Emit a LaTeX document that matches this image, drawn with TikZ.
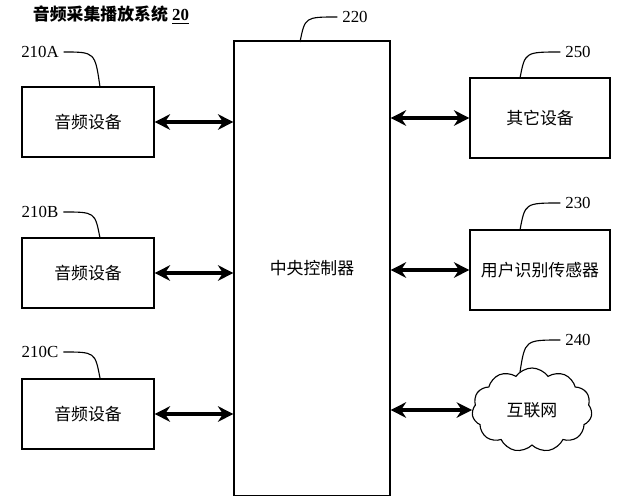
\documentclass[tikz,border=0pt]{standalone}
\usepackage{fontspec}
\setmainfont{Liberation Serif}
\newfontfamily\cjk{Noto Sans CJK SC}
\usetikzlibrary{arrows.meta}
\usetikzlibrary{positioning}
\usetikzlibrary{shapes.symbols}
\tikzset{
  box/.style={draw, thick, minimum width=3.3cm, minimum height=1.75cm, font=\cjk\large},
  link/.style={{Stealth[length=11pt,width=11pt]}-{Stealth[length=11pt,width=11pt]}, line width=2.2pt},
  lead/.style={thick},
  tag/.style={font=\large}
}
\begin{document}
\begin{tikzpicture}[x=0.025cm,y=-0.025cm]
    \useasboundingbox (0,0) rectangle (636,500);
    \node[font=\bfseries\large, anchor=west] (title) at (28,15) {{\cjk 音频采集播放系统} \underline{20}};

    %CENTRAL
    \node[draw, thick, minimum width=3.9cm, minimum height=11.35cm, font=\cjk\large] (ctrl) at (312,268) {中央控制器};

    %LEFT
    \node[box] (devA) at (88,122) {音频设备};
    \node[box] (devB) at (88,273) {音频设备};
    \node[box] (devC) at (88,414) {音频设备};

    %RIGHT
    \node[box, minimum width=3.5cm, minimum height=2cm] (other) at (540,118) {其它设备};
    \node[box, minimum width=3.5cm, minimum height=2cm] (sensor) at (540,270) {用户识别传感器};
    \node[draw, thick, cloud, cloud puffs=11, cloud puff arc=110, aspect=1.5,
      minimum width=3cm, minimum height=2.1cm, font=\cjk\large] (net) at (532,410) {互联网};

    \foreach \n in {devA,devB,devC}
      \draw[link] (\n.east) -- (\n.east -| ctrl.west);
    \foreach \n in {other,sensor}
      \draw[link] (\n.west) -- (\n.west -| ctrl.east);
    \draw[link] (net.west) -- (net.west -| ctrl.east);

    %LABELS
    \node[tag] (tA) at (40,52) {210A};
    \node[tag] (tB) at (40,212) {210B};
    \node[tag] (tC) at (40,352) {210C};
    \node[tag] (t220) at (355,17) {220};
    \node[tag] (t250) at (578,52) {250};
    \node[tag] (t230) at (578,203) {230};
    \node[tag] (t240) at (578,340) {240};

    \draw[lead] (tA.east) .. controls (95,52) .. (100,87);
    \draw[lead] (tB.east) .. controls (95,212) .. (100,238);
    \draw[lead] (tC.east) .. controls (95,352) .. (100,378);
    \draw[lead] (300,42) .. controls (305,17) .. (t220.west);
    \draw[lead] (520,78) .. controls (525,52) .. (t250.west);
    \draw[lead] (520,230) .. controls (525,203) .. (t230.west);
    \draw[lead] (520,372) .. controls (525,340) .. (t240.west);
\end{tikzpicture}
\end{document}
